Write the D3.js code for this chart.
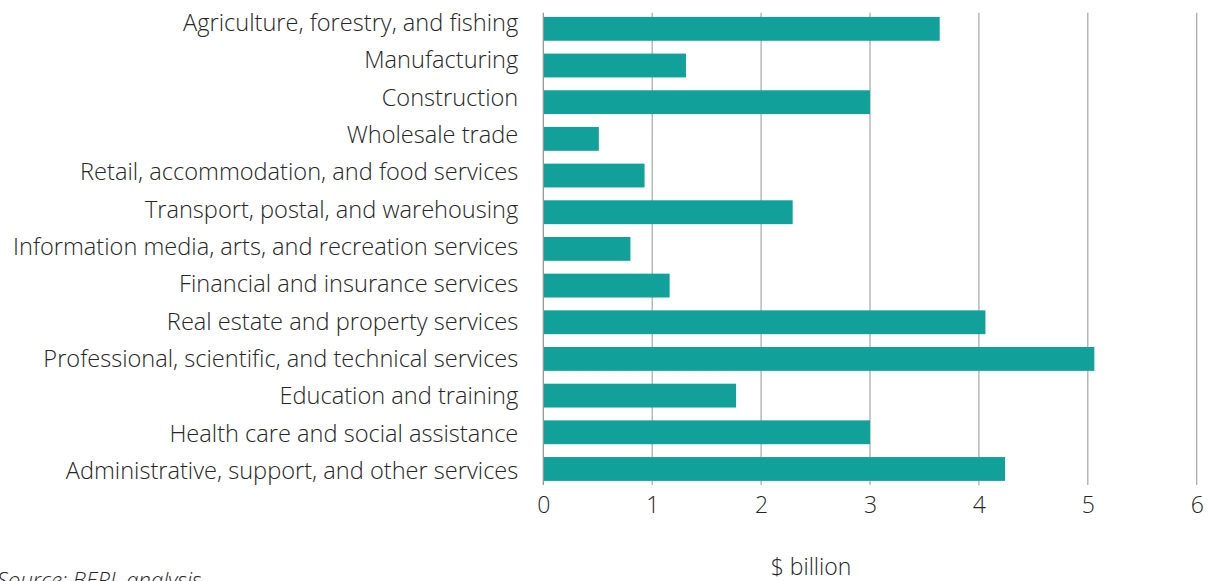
<!DOCTYPE html>
<html>
<head>
<meta charset="utf-8">
<script src="https://cdn.jsdelivr.net/npm/d3@7"></script>
<style>
  body { margin: 0; background: #fff; }
  svg { display: block; font-family: "Open Sans", sans-serif; }
</style>
</head>
<body>
<svg width="1210" height="581"></svg>
<script>
// categories and values ($ billion)
const industries = [
  "Agriculture, forestry, and fishing",
  "Manufacturing",
  "Construction",
  "Wholesale trade",
  "Retail, accommodation, and food services",
  "Transport, postal, and warehousing",
  "Information media, arts, and recreation services",
  "Financial and insurance services",
  "Real estate and property services",
  "Professional, scientific, and technical services",
  "Education and training",
  "Health care and social assistance",
  "Administrative, support, and other services"
];
const values = [3.64, 1.31, 3.0, 0.51, 0.93, 2.29, 0.80, 1.16, 4.06, 5.06, 1.77, 3.0, 4.24];
const xTicks = [0, 1, 2, 3, 4, 5, 6];

const data = industries.map((d, i) => ({ name: d, value: values[i] }));

const svg = d3.select("svg");
const left = 543.3, right = 1196.7;
const gridTop = 12.7, gridBottom = 485;
const ink = "#262626";

const x = d3.scaleLinear().domain([0, 6]).range([left, right]);
const y = d3.scaleBand().domain(industries).range([10.5, 487.3]).paddingInner(0.35).paddingOuter(0.175);
// category labels sit on a slightly wider spacing than the bars
const yLabel = d3.scalePoint().domain(industries).range([23, 471]);

// gridlines
svg.append("g")
  .selectAll("line")
  .data(xTicks)
  .join("line")
    .attr("x1", d => x(d)).attr("x2", d => x(d))
    .attr("y1", gridTop).attr("y2", gridBottom)
    .attr("stroke", d => d === 0 ? "#8f8f8f" : "#a6a6a6")
    .attr("stroke-width", 1.2);

// bars
svg.append("g")
  .selectAll("rect")
  .data(data)
  .join("rect")
    .attr("x", x(0) + 0.6)
    .attr("y", d => y(d.name))
    .attr("width", d => x(d.value) - x(0) - 0.6)
    .attr("height", y.bandwidth())
    .attr("fill", "#12a09b");

// x axis labels
const xAxis = svg.append("g")
  .attr("transform", `translate(0,${gridBottom})`)
  .call(d3.axisBottom(x).tickValues(xTicks).tickSize(0).tickPadding(12).tickFormat(d3.format("d")));
xAxis.select(".domain").remove();
xAxis.selectAll("text")
  .attr("font-family", "Open Sans, sans-serif")
  .attr("font-size", 23)
  .attr("font-weight", 300)
  .attr("fill", ink);

// y axis labels
const yAxis = svg.append("g")
  .attr("transform", `translate(${left},0)`)
  .call(d3.axisLeft(yLabel).tickSize(0).tickPadding(25));
yAxis.select(".domain").remove();
yAxis.selectAll("text")
  .attr("font-family", "Open Sans, sans-serif")
  .attr("font-size", 23.6)
  .attr("font-weight", 300)
  .attr("fill", ink);

// axis title
svg.append("text")
  .attr("x", 811)
  .attr("y", 575)
  .attr("text-anchor", "middle")
  .attr("font-size", 23)
  .attr("font-weight", 300)
  .attr("fill", ink)
  .text("$ billion");

// source note (cut at the bottom edge, as in the original)
svg.append("text")
  .attr("x", -3)
  .attr("y", 588)
  .attr("font-size", 22)
  .attr("font-style", "italic")
  .attr("font-weight", 300)
  .attr("fill", ink)
  .text("Source: BERL analysis");
</script>
</body>
</html>
